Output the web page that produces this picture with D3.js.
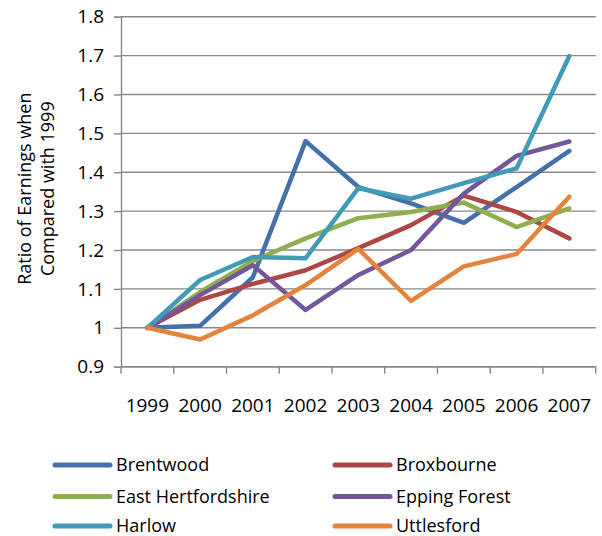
<!DOCTYPE html>
<html>
<head>
<meta charset="utf-8">
<script src="https://cdn.jsdelivr.net/npm/d3@7"></script>
<style>
  html, body { margin: 0; padding: 0; background: #fff; }
  svg { display: block; }
  text { font-family: "Open Sans", Lato, sans-serif; fill: #000; }
</style>
</head>
<body>
<svg id="chart" width="602" height="536"></svg>
<script>
const years = ["1999", "2000", "2001", "2002", "2003", "2004", "2005", "2006", "2007"];
const brentwood   = [1.000, 1.005, 1.130, 1.480, 1.362, 1.320, 1.270, 1.362, 1.455];
const broxbourne  = [1.000, 1.072, 1.113, 1.148, 1.205, 1.264, 1.340, 1.298, 1.230];
const eastHerts   = [1.000, 1.092, 1.172, 1.230, 1.282, 1.298, 1.322, 1.259, 1.307];
const eppingForest= [1.000, 1.084, 1.161, 1.046, 1.136, 1.200, 1.345, 1.442, 1.479];
const harlow      = [1.000, 1.123, 1.182, 1.179, 1.359, 1.332, 1.372, 1.410, 1.699];
const uttlesford  = [1.000, 0.970, 1.032, 1.110, 1.203, 1.069, 1.158, 1.190, 1.337];
const seriesNames = ["Brentwood", "Broxbourne", "East Hertfordshire", "Epping Forest", "Harlow", "Uttlesford"];
const seriesValues = [brentwood, broxbourne, eastHerts, eppingForest, harlow, uttlesford];
const seriesColors = ["#4571AA", "#AC4745", "#90AD50", "#72589A", "#419BB6", "#E4833B"];
const yTicks = [0.9, 1.0, 1.1, 1.2, 1.3, 1.4, 1.5, 1.6, 1.7, 1.8];
const yTickLabels = ["0.9", "1", "1.1", "1.2", "1.3", "1.4", "1.5", "1.6", "1.7", "1.8"];
const yTitle = ["Ratio of Earnings when", "Compared with 1999"];

(function () {
const svg = d3.select("#chart");
const pL = 121, pR = 595.7, pT = 16.7, pB = 366.7;
const FS = 19, FL = 18, FT = 18;

const x = d3.scaleBand().domain(years).range([pL, pR]).padding(0);
const cx = d => x(d) + x.bandwidth() / 2;
const y = d3.scaleLinear().domain([0.9, 1.8]).range([pB, pT]);

// gridlines
svg.append("g").selectAll("line").data(yTicks).join("line")
  .attr("x1", pL).attr("x2", pR)
  .attr("y1", d => y(d)).attr("y2", d => y(d))
  .attr("stroke", "#888").attr("stroke-width", 1.4);

// y axis
const yAxis = d3.axisLeft(y).tickValues(yTicks).tickSize(7).tickPadding(10)
  .tickFormat((d, i) => yTickLabels[i]);
const gy = svg.append("g").attr("transform", `translate(${pL},0)`).call(yAxis);
gy.select(".domain").attr("stroke", "#888").attr("stroke-width", 1.4);
gy.selectAll(".tick line").attr("stroke", "#888").attr("stroke-width", 1.4);
gy.selectAll(".tick text").style("font-size", FS + "px").attr("font-family", "Open Sans").attr("fill", "#000");

// x axis
const xAxis = d3.axisBottom(x).tickSize(0).tickPadding(32);
const gx = svg.append("g").attr("transform", `translate(0,${pB})`).call(xAxis);
gx.select(".domain").remove();
gx.selectAll(".tick text").style("font-size", FS + "px").attr("font-family", "Open Sans").attr("fill", "#000");
svg.append("line").attr("x1", pL).attr("x2", pR).attr("y1", pB).attr("y2", pB)
  .attr("stroke", "#888").attr("stroke-width", 1.4);
const bounds = years.map(d => x(d)).concat([pR]);
svg.append("g").selectAll("line").data(bounds).join("line")
  .attr("x1", d => d).attr("x2", d => d)
  .attr("y1", pB).attr("y2", pB + 7)
  .attr("stroke", "#888").attr("stroke-width", 1.4);

// y title
const tg = svg.append("text")
  .attr("transform", `translate(0,${(pT + pB) / 2 - 3}) rotate(-90)`)
  .attr("text-anchor", "middle").style("font-size", FT + "px");
tg.append("tspan").attr("x", 0).attr("y", 31).text(yTitle[0]);
tg.append("tspan").attr("x", 0).attr("y", 54).text(yTitle[1]);

// lines
const line = d3.line().x((d, i) => cx(years[i])).y(d => y(d));
svg.append("g").selectAll("path").data(seriesValues).join("path")
  .attr("d", line)
  .attr("fill", "none")
  .attr("stroke", (d, i) => seriesColors[i])
  .attr("stroke-width", 4.5)
  .attr("stroke-linejoin", "round")
  .attr("stroke-linecap", "round");

// legend
const legX = [55, 335], legY = [465, 496.5, 526];
const lg = svg.append("g").selectAll("g").data(seriesNames).join("g")
  .attr("transform", (d, i) => `translate(${legX[i % 2]},${legY[Math.floor(i / 2)]})`);
lg.append("line").attr("x1", 0).attr("x2", 55).attr("y1", 0).attr("y2", 0)
  .attr("stroke", (d, i) => seriesColors[i]).attr("stroke-width", 5).attr("stroke-linecap", "round");
lg.append("text").attr("x", 61).attr("y", 0).attr("dy", "0.35em")
  .style("font-size", FL + "px").text(d => d);
})();
</script>
</body>
</html>
